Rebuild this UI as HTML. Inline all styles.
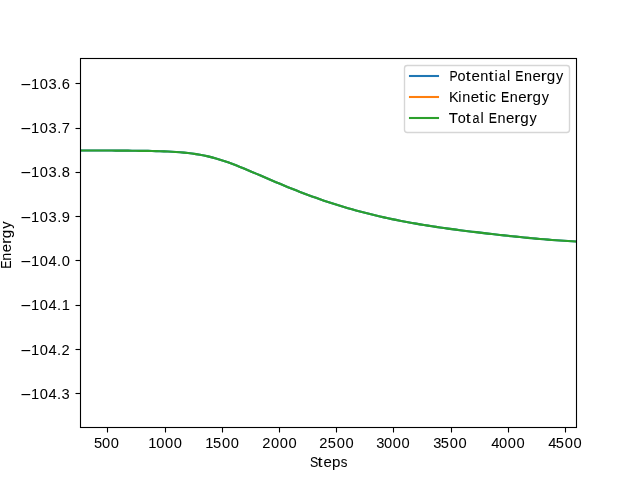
<!DOCTYPE html>
<html><head><meta charset="utf-8"><title>Energy vs Steps</title>
<style>
html,body{margin:0;padding:0;background:#fff;}
body{width:640px;height:480px;overflow:hidden;}
svg{display:block;will-change:transform;}
text{font-family:"Liberation Sans",sans-serif;fill:#000;white-space:pre;stroke:#000;stroke-width:0.04px;}
.d text{stroke-width:0.03px;}
</style></head><body>
<svg width="640" height="480" viewBox="0 0 640 480">
<rect x="0" y="0" width="640" height="480" fill="#ffffff"/>
<defs><clipPath id="ax"><rect x="80" y="57.6" width="496.5" height="369.6"/></clipPath></defs>
<g clip-path="url(#ax)" fill="none" stroke-width="2.14" stroke-linejoin="round" stroke-linecap="butt">
<path d="M80,150.51 L84,150.51 L88,150.51 L92,150.51 L96,150.51 L100,150.51 L104,150.51 L108,150.51 L112,150.55 L116,150.58 L120,150.62 L124,150.65 L128,150.69 L132,150.73 L136,150.77 L140,150.82 L144,150.87 L148,150.94 L152,151.01 L156,151.1 L160,151.22 L164,151.36 L168,151.53 L172,151.73 L176,151.98 L180,152.28 L184,152.63 L188,153.05 L192,153.54 L196,154.11 L200,154.77 L204,155.52 L208,156.39 L212,157.36 L216,158.45 L220,159.66 L224,160.96 L228,162.35 L232,163.82 L236,165.35 L240,166.93 L244,168.56 L248,170.22 L252,171.91 L256,173.61 L260,175.32 L264,177.04 L268,178.75 L272,180.46 L276,182.15 L280,183.84 L284,185.5 L288,187.14 L292,188.76 L296,190.35 L300,191.92 L304,193.45 L308,194.95 L312,196.42 L316,197.86 L320,199.27 L324,200.64 L328,201.98 L332,203.28 L336,204.55 L340,205.79 L344,207 L348,208.17 L352,209.32 L356,210.43 L360,211.51 L364,212.56 L368,213.58 L372,214.57 L376,215.53 L380,216.46 L384,217.36 L388,218.24 L392,219.09 L396,219.91 L400,220.71 L404,221.48 L408,222.23 L412,222.96 L416,223.66 L420,224.34 L424,225.01 L428,225.65 L432,226.27 L436,226.88 L440,227.46 L444,228.04 L448,228.6 L452,229.14 L456,229.67 L460,230.19 L464,230.7 L468,231.21 L472,231.7 L476,232.18 L480,232.66 L484,233.13 L488,233.59 L492,234.05 L496,234.49 L500,234.94 L504,235.37 L508,235.8 L512,236.23 L516,236.64 L520,237.05 L524,237.45 L528,237.84 L532,238.22 L536,238.59 L540,238.95 L544,239.3 L548,239.63 L552,239.95 L556,240.25 L560,240.54 L564,240.8 L568,241.05 L572,241.27 L576,241.47 L580,241.64" stroke="#1f77b4"/>
<path d="M80,150.51 L84,150.51 L88,150.51 L92,150.51 L96,150.51 L100,150.51 L104,150.51 L108,150.51 L112,150.55 L116,150.58 L120,150.62 L124,150.65 L128,150.69 L132,150.73 L136,150.77 L140,150.82 L144,150.87 L148,150.94 L152,151.01 L156,151.1 L160,151.22 L164,151.36 L168,151.53 L172,151.73 L176,151.98 L180,152.28 L184,152.63 L188,153.05 L192,153.54 L196,154.11 L200,154.77 L204,155.52 L208,156.39 L212,157.36 L216,158.45 L220,159.66 L224,160.96 L228,162.35 L232,163.82 L236,165.35 L240,166.93 L244,168.56 L248,170.22 L252,171.91 L256,173.61 L260,175.32 L264,177.04 L268,178.75 L272,180.46 L276,182.15 L280,183.84 L284,185.5 L288,187.14 L292,188.76 L296,190.35 L300,191.92 L304,193.45 L308,194.95 L312,196.42 L316,197.86 L320,199.27 L324,200.64 L328,201.98 L332,203.28 L336,204.55 L340,205.79 L344,207 L348,208.17 L352,209.32 L356,210.43 L360,211.51 L364,212.56 L368,213.58 L372,214.57 L376,215.53 L380,216.46 L384,217.36 L388,218.24 L392,219.09 L396,219.91 L400,220.71 L404,221.48 L408,222.23 L412,222.96 L416,223.66 L420,224.34 L424,225.01 L428,225.65 L432,226.27 L436,226.88 L440,227.46 L444,228.04 L448,228.6 L452,229.14 L456,229.67 L460,230.19 L464,230.7 L468,231.21 L472,231.7 L476,232.18 L480,232.66 L484,233.13 L488,233.59 L492,234.05 L496,234.49 L500,234.94 L504,235.37 L508,235.8 L512,236.23 L516,236.64 L520,237.05 L524,237.45 L528,237.84 L532,238.22 L536,238.59 L540,238.95 L544,239.3 L548,239.63 L552,239.95 L556,240.25 L560,240.54 L564,240.8 L568,241.05 L572,241.27 L576,241.47 L580,241.64" stroke="#2ca02c"/>
</g>
<g stroke="#000" stroke-width="1.11">
<line x1="107.5" y1="427.5" x2="107.5" y2="432.5"/>
<line x1="165.5" y1="427.5" x2="165.5" y2="432.5"/>
<line x1="222.5" y1="427.5" x2="222.5" y2="432.5"/>
<line x1="279.5" y1="427.5" x2="279.5" y2="432.5"/>
<line x1="336.5" y1="427.5" x2="336.5" y2="432.5"/>
<line x1="393.5" y1="427.5" x2="393.5" y2="432.5"/>
<line x1="451.5" y1="427.5" x2="451.5" y2="432.5"/>
<line x1="508.5" y1="427.5" x2="508.5" y2="432.5"/>
<line x1="565.5" y1="427.5" x2="565.5" y2="432.5"/>
<line x1="75.5" y1="83.5" x2="80.5" y2="83.5"/>
<line x1="75.5" y1="128.5" x2="80.5" y2="128.5"/>
<line x1="75.5" y1="172.5" x2="80.5" y2="172.5"/>
<line x1="75.5" y1="216.5" x2="80.5" y2="216.5"/>
<line x1="75.5" y1="260.5" x2="80.5" y2="260.5"/>
<line x1="75.5" y1="305.5" x2="80.5" y2="305.5"/>
<line x1="75.5" y1="349.5" x2="80.5" y2="349.5"/>
<line x1="75.5" y1="393.5" x2="80.5" y2="393.5"/>
</g>
<rect x="80.5" y="58.5" width="496" height="369" fill="none" stroke="#000" stroke-width="1.11" stroke-linejoin="miter"/>
<g class="d">
<text y="448.00" font-size="14.7"><tspan x="93.89">5</tspan><tspan x="101.91">0</tspan><tspan x="110.66">0</tspan></text>
<text y="448.00" font-size="14.7"><tspan x="148.21">1</tspan><tspan x="156.13">0</tspan><tspan x="164.88">0</tspan><tspan x="173.63">0</tspan></text>
<text y="448.00" font-size="14.7"><tspan x="205.21">1</tspan><tspan x="213.01">5</tspan><tspan x="221.88">0</tspan><tspan x="230.63">0</tspan></text>
<text y="448.00" font-size="14.7"><tspan x="262.15">2</tspan><tspan x="270.91">0</tspan><tspan x="279.66">0</tspan><tspan x="288.41">0</tspan></text>
<text y="448.00" font-size="14.7"><tspan x="319.15">2</tspan><tspan x="327.64">5</tspan><tspan x="336.66">0</tspan><tspan x="345.41">0</tspan></text>
<text y="448.00" font-size="14.7"><tspan x="376.13">3</tspan><tspan x="383.91">0</tspan><tspan x="392.66">0</tspan><tspan x="401.41">0</tspan></text>
<text y="448.00" font-size="14.7"><tspan x="433.13">3</tspan><tspan x="440.64">5</tspan><tspan x="449.66">0</tspan><tspan x="458.41">0</tspan></text>
<text y="448.00" font-size="14.7"><tspan x="491.21">4</tspan><tspan x="498.91">0</tspan><tspan x="507.66">0</tspan><tspan x="516.41">0</tspan></text>
<text y="448.00" font-size="14.7"><tspan x="548.21">4</tspan><tspan x="555.64">5</tspan><tspan x="564.66">0</tspan><tspan x="573.41">0</tspan></text>
<text transform="translate(20.39,89.99) scale(1.216,1.108)" x="0" y="0" font-size="14.7">−</text><text y="89.00" font-size="14.7"><tspan x="30.93">1</tspan><tspan x="39.66">0</tspan><tspan x="48.38">3</tspan><tspan x="57.15">.</tspan><tspan x="61.71">6</tspan></text>
<text transform="translate(20.39,133.99) scale(1.216,1.108)" x="0" y="0" font-size="14.7">−</text><text y="133.00" font-size="14.7"><tspan x="30.93">1</tspan><tspan x="39.66">0</tspan><tspan x="48.38">3</tspan><tspan x="57.15">.</tspan><tspan x="61.66">7</tspan></text>
<text transform="translate(20.39,177.99) scale(1.216,1.108)" x="0" y="0" font-size="14.7">−</text><text y="177.00" font-size="14.7"><tspan x="30.93">1</tspan><tspan x="39.66">0</tspan><tspan x="48.38">3</tspan><tspan x="57.15">.</tspan><tspan x="61.66">8</tspan></text>
<text transform="translate(20.39,222.99) scale(1.216,1.108)" x="0" y="0" font-size="14.7">−</text><text y="222.00" font-size="14.7"><tspan x="30.93">1</tspan><tspan x="39.66">0</tspan><tspan x="48.38">3</tspan><tspan x="57.15">.</tspan><tspan x="61.67">9</tspan></text>
<text transform="translate(20.39,266.99) scale(1.216,1.108)" x="0" y="0" font-size="14.7">−</text><text y="266.00" font-size="14.7"><tspan x="30.93">1</tspan><tspan x="39.86">0</tspan><tspan x="48.46">4</tspan><tspan x="56.90">.</tspan><tspan x="61.63">0</tspan></text>
<text transform="translate(20.39,310.99) scale(1.216,1.108)" x="0" y="0" font-size="14.7">−</text><text y="310.00" font-size="14.7"><tspan x="30.93">1</tspan><tspan x="39.86">0</tspan><tspan x="48.46">4</tspan><tspan x="56.90">.</tspan><tspan x="61.68">1</tspan></text>
<text transform="translate(20.39,355.99) scale(1.216,1.108)" x="0" y="0" font-size="14.7">−</text><text y="355.00" font-size="14.7"><tspan x="30.93">1</tspan><tspan x="39.86">0</tspan><tspan x="48.46">4</tspan><tspan x="56.90">.</tspan><tspan x="61.47">2</tspan></text>
<text transform="translate(20.39,399.99) scale(1.216,1.108)" x="0" y="0" font-size="14.7">−</text><text y="399.00" font-size="14.7"><tspan x="30.93">1</tspan><tspan x="39.86">0</tspan><tspan x="48.46">4</tspan><tspan x="56.90">.</tspan><tspan x="61.46">3</tspan></text>
</g>
<text y="467.10" font-size="14.45"><tspan x="309.91" textLength="8.26" lengthAdjust="spacingAndGlyphs">S</tspan><tspan x="317.47" textLength="5.02" lengthAdjust="spacingAndGlyphs">t</tspan><tspan x="323.56" textLength="8.37" lengthAdjust="spacingAndGlyphs">e</tspan><tspan x="332.02" textLength="8.43" lengthAdjust="spacingAndGlyphs">p</tspan><tspan x="340.71" textLength="6.65" lengthAdjust="spacingAndGlyphs">s</tspan></text>
<text transform="translate(11.1,243.6) rotate(-90)" y="0.00" font-size="14.45"><tspan x="-25.23" textLength="8.19" lengthAdjust="spacingAndGlyphs">E</tspan><tspan x="-17.14">n</tspan><tspan x="-8.74" textLength="8.37" lengthAdjust="spacingAndGlyphs">e</tspan><tspan x="-0.30" textLength="5.99" lengthAdjust="spacingAndGlyphs">r</tspan><tspan x="5.31" textLength="8.43" lengthAdjust="spacingAndGlyphs">g</tspan><tspan x="14.74">y</tspan></text>
<rect x="404.5" y="65.5" width="165" height="67" rx="2.8" ry="2.8" fill="#fff" fill-opacity="0.8" stroke="#cccccc" stroke-opacity="0.8" stroke-width="1.39"/>
<line x1="408.95" y1="76.0" x2="439.05" y2="76.0" stroke="#1f77b4" stroke-width="2.08"/>
<text y="81.00" font-size="14.45"><tspan x="449.40" textLength="8.19" lengthAdjust="spacingAndGlyphs">P</tspan><tspan x="457.48">o</tspan><tspan x="465.80" textLength="5.02" lengthAdjust="spacingAndGlyphs">t</tspan><tspan x="471.49" textLength="8.37" lengthAdjust="spacingAndGlyphs">e</tspan><tspan x="480.28">n</tspan><tspan x="488.45" textLength="5.02" lengthAdjust="spacingAndGlyphs">t</tspan><tspan x="494.43">i</tspan><tspan x="498.64" textLength="6.97" lengthAdjust="spacingAndGlyphs">a</tspan><tspan x="506.92">l</tspan><tspan x="510.50"> </tspan><tspan x="515.15" textLength="8.19" lengthAdjust="spacingAndGlyphs">E</tspan><tspan x="524.03">n</tspan><tspan x="532.49" textLength="8.37" lengthAdjust="spacingAndGlyphs">e</tspan><tspan x="540.68" textLength="5.99" lengthAdjust="spacingAndGlyphs">r</tspan><tspan x="546.74" textLength="8.43" lengthAdjust="spacingAndGlyphs">g</tspan><tspan x="555.92">y</tspan></text>
<line x1="408.95" y1="97.0" x2="439.05" y2="97.0" stroke="#ff7f0e" stroke-width="2.08"/>
<text y="102.00" font-size="14.45"><tspan x="448.88">K</tspan><tspan x="458.15">i</tspan><tspan x="462.13">n</tspan><tspan x="470.89" textLength="8.37" lengthAdjust="spacingAndGlyphs">e</tspan><tspan x="478.90" textLength="5.02" lengthAdjust="spacingAndGlyphs">t</tspan><tspan x="485.08">i</tspan><tspan x="488.72">c</tspan><tspan x="496.12"> </tspan><tspan x="500.97" textLength="8.19" lengthAdjust="spacingAndGlyphs">E</tspan><tspan x="509.66">n</tspan><tspan x="518.21" textLength="8.37" lengthAdjust="spacingAndGlyphs">e</tspan><tspan x="526.40" textLength="5.99" lengthAdjust="spacingAndGlyphs">r</tspan><tspan x="532.46" textLength="8.43" lengthAdjust="spacingAndGlyphs">g</tspan><tspan x="541.64">y</tspan></text>
<line x1="408.95" y1="118.0" x2="439.05" y2="118.0" stroke="#2ca02c" stroke-width="2.08"/>
<text y="123.00" font-size="14.45"><tspan x="448.66" textLength="9.18" lengthAdjust="spacingAndGlyphs">T</tspan><tspan x="457.77">o</tspan><tspan x="465.69" textLength="5.02" lengthAdjust="spacingAndGlyphs">t</tspan><tspan x="472.61" textLength="6.97" lengthAdjust="spacingAndGlyphs">a</tspan><tspan x="480.39">l</tspan><tspan x="483.97"> </tspan><tspan x="488.67" textLength="8.19" lengthAdjust="spacingAndGlyphs">E</tspan><tspan x="497.40">n</tspan><tspan x="505.95" textLength="8.37" lengthAdjust="spacingAndGlyphs">e</tspan><tspan x="514.15" textLength="5.99" lengthAdjust="spacingAndGlyphs">r</tspan><tspan x="520.21" textLength="8.43" lengthAdjust="spacingAndGlyphs">g</tspan><tspan x="529.39">y</tspan></text>
</svg></body></html>
